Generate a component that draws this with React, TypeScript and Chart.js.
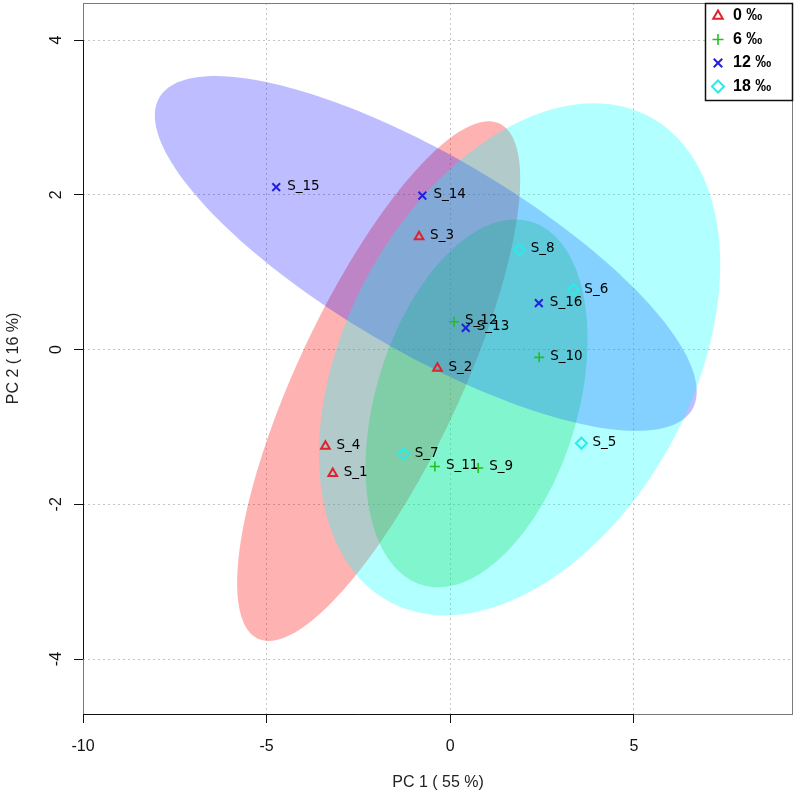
import React, { useEffect, useRef } from 'react';
import { Chart, registerables } from 'chart.js';
import { drawPoint } from 'chart.js/helpers';

Chart.register(...registerables);

// ---- data ----
const groupLabels = ['0 ‰', '6 ‰', '12 ‰', '18 ‰'];

const names0 = ['S_1', 'S_2', 'S_3', 'S_4'];
const pc1_0 = [-3.2, -0.35, -0.85, -3.4];
const pc2_0 = [-1.6, -0.24, 1.46, -1.25];

const names6 = ['S_9', 'S_10', 'S_11', 'S_12'];
const pc1_6 = [0.76, 2.42, -0.42, 0.1];
const pc2_6 = [-1.53, -0.1, -1.51, 0.36];

const names12 = ['S_13', 'S_14', 'S_15', 'S_16'];
const pc1_12 = [0.42, -0.76, -4.74, 2.41];
const pc2_12 = [0.28, 1.99, 2.1, 0.6];

const names18 = ['S_5', 'S_6', 'S_7', 'S_8'];
const pc1_18 = [3.57, 3.35, -1.27, 1.89];
const pc2_18 = [-1.21, 0.77, -1.35, 1.29];

const xTicks = [-10, -5, 0, 5];
const yTicks = [-4, -2, 0, 2, 4];
const xTitle = 'PC 1 ( 55 %)';
const yTitle = 'PC 2 ( 16 %)';
const ellipseLevel = 0.95;

// ---- styles ----
const markerColors = ['#E0222E', '#22C022', '#2222DD', '#2BEAEA'];
const fillColors = ['rgba(255,0,0,0.3)', 'rgba(0,205,0,0.28)', 'rgba(0,0,255,0.26)', 'rgba(0,255,255,0.3)'];
const pointStyles = ['triangle', 'cross', 'crossRot', 'rectRot'];
const pointRadii = [5, 5, 5.5, 5.5];
const pointWidths = [2, 1.6, 2, 2];

export default function App() {
  const ref = useRef<HTMLCanvasElement>(null);

  useEffect(() => {
    document.body.style.margin = '0';
    const canvas = ref.current;
    if (!canvas) return;

    const groups = [
      { names: names0, xs: pc1_0, ys: pc2_0 },
      { names: names6, xs: pc1_6, ys: pc2_6 },
      { names: names12, xs: pc1_12, ys: pc2_12 },
      { names: names18, xs: pc1_18, ys: pc2_18 },
    ];

    const datasets = groups.map((g, i) => ({
      label: groupLabels[i],
      data: g.xs.map((x, j) => ({ x, y: g.ys[j] })),
      pointStyle: pointStyles[i],
      borderColor: markerColors[i],
      backgroundColor: 'rgba(0,0,0,0)',
      pointBorderColor: markerColors[i],
      pointBackgroundColor: 'rgba(0,0,0,0)',
      pointRadius: pointRadii[i],
      pointBorderWidth: pointWidths[i],
      borderWidth: pointWidths[i],
    }));

    const legendBox = { w: 88, h: 97, rowH: 23.5, first: 13 };

    const decor = {
      id: 'decor',
      beforeDatasetsDraw(chart: any) {
        const { ctx, chartArea, scales } = chart;
        const xs = scales.x;
        const ys = scales.y;
        const r = Math.sqrt(-2 * Math.log(1 - ellipseLevel));
        ctx.save();
        ctx.beginPath();
        ctx.rect(chartArea.left, chartArea.top, chartArea.right - chartArea.left, chartArea.bottom - chartArea.top);
        ctx.clip();
        groups.forEach((g, i) => {
          const n = g.xs.length;
          const mx = g.xs.reduce((a, b) => a + b, 0) / n;
          const my = g.ys.reduce((a, b) => a + b, 0) / n;
          let sxx = 0, syy = 0, sxy = 0;
          for (let k = 0; k < n; k++) {
            const dx = g.xs[k] - mx;
            const dy = g.ys[k] - my;
            sxx += dx * dx; syy += dy * dy; sxy += dx * dy;
          }
          const sx = Math.sqrt(sxx / (n - 1));
          const sy = Math.sqrt(syy / (n - 1));
          const rho = sxy / Math.sqrt(sxx * syy);
          const q = Math.sqrt(Math.max(0, 1 - rho * rho));
          ctx.beginPath();
          const steps = 200;
          for (let k = 0; k <= steps; k++) {
            const t = (2 * Math.PI * k) / steps;
            const vx = mx + r * sx * Math.cos(t);
            const vy = my + r * sy * (rho * Math.cos(t) + q * Math.sin(t));
            const px = xs.getPixelForValue(vx);
            const py = ys.getPixelForValue(vy);
            if (k === 0) ctx.moveTo(px, py); else ctx.lineTo(px, py);
          }
          ctx.closePath();
          ctx.fillStyle = fillColors[i];
          ctx.fill();
        });
        ctx.restore();
      },
      afterDatasetsDraw(chart: any) {
        const { ctx, scales } = chart;
        ctx.save();
        ctx.font = '13.5px "DejaVu Sans"';
        ctx.fillStyle = '#000';
        ctx.textBaseline = 'middle';
        ctx.textAlign = 'left';
        groups.forEach((g) => {
          g.names.forEach((nm, k) => {
            const px = scales.x.getPixelForValue(g.xs[k]);
            const py = scales.y.getPixelForValue(g.ys[k]);
            ctx.fillText(nm, px + 11, py - 1);
          });
        });
        ctx.restore();
      },
      afterDraw(chart: any) {
        const { ctx, chartArea: ca, scales } = chart;
        ctx.save();
        // plot box
        ctx.strokeStyle = '#7a7a7a';
        ctx.lineWidth = 1;
        ctx.strokeRect(ca.left + 0.5, ca.top + 0.5, ca.right - ca.left - 1, ca.bottom - ca.top);
        // axis lines spanning first to last tick
        ctx.strokeStyle = '#111';
        ctx.beginPath();
        ctx.moveTo(scales.x.getPixelForValue(xTicks[0]), ca.bottom + 0.5);
        ctx.lineTo(scales.x.getPixelForValue(xTicks[xTicks.length - 1]), ca.bottom + 0.5);
        ctx.moveTo(ca.left + 0.5, scales.y.getPixelForValue(yTicks[0]));
        ctx.lineTo(ca.left + 0.5, scales.y.getPixelForValue(yTicks[yTicks.length - 1]));
        ctx.stroke();
        // legend
        const bx = ca.right - legendBox.w;
        const by = ca.top;
        ctx.fillStyle = '#fff';
        ctx.fillRect(bx, by, legendBox.w, legendBox.h);
        ctx.strokeStyle = '#111';
        ctx.lineWidth = 1.5;
        ctx.strokeRect(bx + 0.5, by + 0.5, legendBox.w - 1, legendBox.h);
        ctx.font = 'bold 16px "Liberation Sans", Arial, sans-serif';
        ctx.textBaseline = 'middle';
        ctx.textAlign = 'left';
        groupLabels.forEach((lbl, i) => {
          const cy = by + legendBox.first + i * legendBox.rowH;
          ctx.strokeStyle = markerColors[i];
          ctx.fillStyle = 'rgba(0,0,0,0)';
          ctx.lineWidth = pointWidths[i];
          drawPoint(ctx, { pointStyle: pointStyles[i], radius: pointRadii[i] + 0.5, rotation: 0, borderWidth: pointWidths[i] } as any, bx + 13, cy);
          ctx.fillStyle = '#000';
          ctx.fillText(lbl, bx + 28, cy);
        });
        ctx.restore();
      },
    };

    Chart.defaults.font.family = '"Liberation Sans", Arial, sans-serif';

    const chart = new Chart(canvas, {
      type: 'scatter',
      data: { datasets: datasets as any },
      options: {
        animation: false,
        responsive: false,
        devicePixelRatio: 1,
        layout: { autoPadding: false, padding: { left: 0, right: 7, top: 3, bottom: 0 } },
        plugins: {
          legend: { display: false },
          tooltip: { enabled: false },
        },
        scales: {
          x: {
            type: 'linear',
            min: -10,
            max: 9.33,
            afterFit: (s: any) => { s.height = 86; s.paddingLeft = 0; s.paddingRight = 0; },
            afterBuildTicks: (s: any) => { s.ticks = xTicks.map((v) => ({ value: v })); },
            grid: {
              color: '#c4c4c4',
              lineWidth: 1,
              tickLength: 9,
              tickColor: '#111',
              tickBorderDash: [],
              drawTicks: true,
            } as any,
            border: { display: false, dash: [2, 3] } as any,
            ticks: {
              color: '#111',
              padding: 14,
              font: { size: 16 },
              callback: (v: any) => String(v),
            },
            title: {
              display: true,
              text: xTitle,
              color: '#222',
              font: { size: 16 },
              padding: { top: 0, bottom: 8 },
            },
          },
          y: {
            type: 'linear',
            min: -4.71,
            max: 4.48,
            afterFit: (s: any) => { s.width = 83; s.paddingTop = 0; s.paddingBottom = 0; },
            afterBuildTicks: (s: any) => { s.ticks = yTicks.map((v) => ({ value: v })); },
            grid: {
              color: '#c4c4c4',
              lineWidth: 1,
              tickLength: 9,
              tickColor: '#111',
              tickBorderDash: [],
              drawTicks: true,
            } as any,
            border: { display: false, dash: [2, 3] } as any,
            ticks: {
              color: '#111',
              padding: 10,
              minRotation: 90,
              maxRotation: 90,
              crossAlign: 'center',
              font: { size: 16 },
              callback: (v: any) => String(v),
            },
            title: {
              display: true,
              text: yTitle,
              color: '#222',
              font: { size: 16 },
              padding: { top: 4, bottom: 0 },
            },
          },
        },
      },
      plugins: [decor as any],
    });

    return () => chart.destroy();
  }, []);

  return (
    <div style={{ width: 800, height: 800 }}>
      <canvas ref={ref} width={800} height={800} style={{ display: 'block' }} />
    </div>
  );
}
